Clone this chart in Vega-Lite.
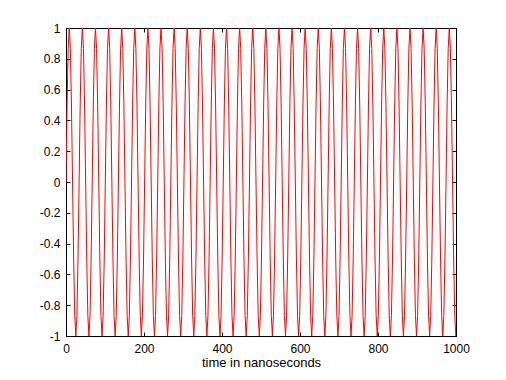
{
 "$schema": "https://vega.github.io/schema/vega-lite/v6.json",
 "width": 390, "height": 308,
 "autosize": {"type": "none"},
 "padding": {"left": 66, "top": 28, "right": 50, "bottom": 44},
 "background": "white",
 "config": {
  "view": {"stroke": "black", "strokeWidth": 1},
  "axis": {"labelFont": "Liberation Sans", "labelFontSize": 12, "labelColor": "black", "titleFont": "Liberation Sans", "titleFontSize": 13, "titleFontWeight": "normal", "titleColor": "black", "domain": false, "grid": false, "tickColor": "black", "tickSize": -4, "ticks": true, "labelFlush": false, "labelOverlap": false}
 },
 "data": {"values": [
{"t":0,"v":0},{"t":2.8,"v":0.5},{"t":5.6,"v":0.866},{"t":8.4,"v":1},{"t":11.2,"v":0.866},{"t":14,"v":0.5},{"t":16.8,"v":0},{"t":19.6,"v":-0.5},{"t":22.4,"v":-0.866},{"t":25.2,"v":-1},{"t":28,"v":-0.866},{"t":30.8,"v":-0.5},
{"t":33.6,"v":0},{"t":36.4,"v":0.5},{"t":39.2,"v":0.866},{"t":42,"v":1},{"t":44.8,"v":0.866},{"t":47.6,"v":0.5},{"t":50.4,"v":0},{"t":53.2,"v":-0.5},{"t":56,"v":-0.866},{"t":58.8,"v":-1},{"t":61.6,"v":-0.866},{"t":64.4,"v":-0.5},
{"t":67.2,"v":0},{"t":70,"v":0.5},{"t":72.8,"v":0.866},{"t":75.6,"v":1},{"t":78.4,"v":0.866},{"t":81.2,"v":0.5},{"t":84,"v":0},{"t":86.8,"v":-0.5},{"t":89.6,"v":-0.866},{"t":92.4,"v":-1},{"t":95.2,"v":-0.866},{"t":98,"v":-0.5},
{"t":100.8,"v":0},{"t":103.6,"v":0.5},{"t":106.4,"v":0.866},{"t":109.2,"v":1},{"t":112,"v":0.866},{"t":114.8,"v":0.5},{"t":117.6,"v":0},{"t":120.4,"v":-0.5},{"t":123.2,"v":-0.866},{"t":126,"v":-1},{"t":128.8,"v":-0.866},{"t":131.6,"v":-0.5},
{"t":134.4,"v":0},{"t":137.2,"v":0.5},{"t":140,"v":0.866},{"t":142.8,"v":1},{"t":145.6,"v":0.866},{"t":148.4,"v":0.5},{"t":151.2,"v":0},{"t":154,"v":-0.5},{"t":156.8,"v":-0.866},{"t":159.6,"v":-1},{"t":162.4,"v":-0.866},{"t":165.2,"v":-0.5},
{"t":168,"v":0},{"t":170.8,"v":0.5},{"t":173.6,"v":0.866},{"t":176.4,"v":1},{"t":179.2,"v":0.866},{"t":182,"v":0.5},{"t":184.8,"v":0},{"t":187.6,"v":-0.5},{"t":190.4,"v":-0.866},{"t":193.2,"v":-1},{"t":196,"v":-0.866},{"t":198.8,"v":-0.5},
{"t":201.6,"v":0},{"t":204.4,"v":0.5},{"t":207.2,"v":0.866},{"t":210,"v":1},{"t":212.8,"v":0.866},{"t":215.6,"v":0.5},{"t":218.4,"v":0},{"t":221.2,"v":-0.5},{"t":224,"v":-0.866},{"t":226.8,"v":-1},{"t":229.6,"v":-0.866},{"t":232.4,"v":-0.5},
{"t":235.2,"v":0},{"t":238,"v":0.5},{"t":240.8,"v":0.866},{"t":243.6,"v":1},{"t":246.4,"v":0.866},{"t":249.2,"v":0.5},{"t":252,"v":0},{"t":254.8,"v":-0.5},{"t":257.6,"v":-0.866},{"t":260.4,"v":-1},{"t":263.2,"v":-0.866},{"t":266,"v":-0.5},
{"t":268.8,"v":0},{"t":271.6,"v":0.5},{"t":274.4,"v":0.866},{"t":277.2,"v":1},{"t":280,"v":0.866},{"t":282.8,"v":0.5},{"t":285.6,"v":0},{"t":288.4,"v":-0.5},{"t":291.2,"v":-0.866},{"t":294,"v":-1},{"t":296.8,"v":-0.866},{"t":299.6,"v":-0.5},
{"t":302.4,"v":0},{"t":305.2,"v":0.5},{"t":308,"v":0.866},{"t":310.8,"v":1},{"t":313.6,"v":0.866},{"t":316.4,"v":0.5},{"t":319.2,"v":0},{"t":322,"v":-0.5},{"t":324.8,"v":-0.866},{"t":327.6,"v":-1},{"t":330.4,"v":-0.866},{"t":333.2,"v":-0.5},
{"t":336,"v":0},{"t":338.8,"v":0.5},{"t":341.6,"v":0.866},{"t":344.4,"v":1},{"t":347.2,"v":0.866},{"t":350,"v":0.5},{"t":352.8,"v":0},{"t":355.6,"v":-0.5},{"t":358.4,"v":-0.866},{"t":361.2,"v":-1},{"t":364,"v":-0.866},{"t":366.8,"v":-0.5},
{"t":369.6,"v":0},{"t":372.4,"v":0.5},{"t":375.2,"v":0.866},{"t":378,"v":1},{"t":380.8,"v":0.866},{"t":383.6,"v":0.5},{"t":386.4,"v":0},{"t":389.2,"v":-0.5},{"t":392,"v":-0.866},{"t":394.8,"v":-1},{"t":397.6,"v":-0.866},{"t":400.4,"v":-0.5},
{"t":403.2,"v":0},{"t":406,"v":0.5},{"t":408.8,"v":0.866},{"t":411.6,"v":1},{"t":414.4,"v":0.866},{"t":417.2,"v":0.5},{"t":420,"v":0},{"t":422.8,"v":-0.5},{"t":425.6,"v":-0.866},{"t":428.4,"v":-1},{"t":431.2,"v":-0.866},{"t":434,"v":-0.5},
{"t":436.8,"v":0},{"t":439.6,"v":0.5},{"t":442.4,"v":0.866},{"t":445.2,"v":1},{"t":448,"v":0.866},{"t":450.8,"v":0.5},{"t":453.6,"v":0},{"t":456.4,"v":-0.5},{"t":459.2,"v":-0.866},{"t":462,"v":-1},{"t":464.8,"v":-0.866},{"t":467.6,"v":-0.5},
{"t":470.4,"v":0},{"t":473.2,"v":0.5},{"t":476,"v":0.866},{"t":478.8,"v":1},{"t":481.6,"v":0.866},{"t":484.4,"v":0.5},{"t":487.2,"v":0},{"t":490,"v":-0.5},{"t":492.8,"v":-0.866},{"t":495.6,"v":-1},{"t":498.4,"v":-0.866},{"t":501.2,"v":-0.5},
{"t":504,"v":0},{"t":506.8,"v":0.5},{"t":509.6,"v":0.866},{"t":512.4,"v":1},{"t":515.2,"v":0.866},{"t":518,"v":0.5},{"t":520.8,"v":0},{"t":523.6,"v":-0.5},{"t":526.4,"v":-0.866},{"t":529.2,"v":-1},{"t":532,"v":-0.866},{"t":534.8,"v":-0.5},
{"t":537.6,"v":0},{"t":540.4,"v":0.5},{"t":543.2,"v":0.866},{"t":546,"v":1},{"t":548.8,"v":0.866},{"t":551.6,"v":0.5},{"t":554.4,"v":0},{"t":557.2,"v":-0.5},{"t":560,"v":-0.866},{"t":562.8,"v":-1},{"t":565.6,"v":-0.866},{"t":568.4,"v":-0.5},
{"t":571.2,"v":0},{"t":574,"v":0.5},{"t":576.8,"v":0.866},{"t":579.6,"v":1},{"t":582.4,"v":0.866},{"t":585.2,"v":0.5},{"t":588,"v":0},{"t":590.8,"v":-0.5},{"t":593.6,"v":-0.866},{"t":596.4,"v":-1},{"t":599.2,"v":-0.866},{"t":602,"v":-0.5},
{"t":604.8,"v":0},{"t":607.6,"v":0.5},{"t":610.4,"v":0.866},{"t":613.2,"v":1},{"t":616,"v":0.866},{"t":618.8,"v":0.5},{"t":621.6,"v":0},{"t":624.4,"v":-0.5},{"t":627.2,"v":-0.866},{"t":630,"v":-1},{"t":632.8,"v":-0.866},{"t":635.6,"v":-0.5},
{"t":638.4,"v":0},{"t":641.2,"v":0.5},{"t":644,"v":0.866},{"t":646.8,"v":1},{"t":649.6,"v":0.866},{"t":652.4,"v":0.5},{"t":655.2,"v":0},{"t":658,"v":-0.5},{"t":660.8,"v":-0.866},{"t":663.6,"v":-1},{"t":666.4,"v":-0.866},{"t":669.2,"v":-0.5},
{"t":672,"v":0},{"t":674.8,"v":0.5},{"t":677.6,"v":0.866},{"t":680.4,"v":1},{"t":683.2,"v":0.866},{"t":686,"v":0.5},{"t":688.8,"v":0},{"t":691.6,"v":-0.5},{"t":694.4,"v":-0.866},{"t":697.2,"v":-1},{"t":700,"v":-0.866},{"t":702.8,"v":-0.5},
{"t":705.6,"v":0},{"t":708.4,"v":0.5},{"t":711.2,"v":0.866},{"t":714,"v":1},{"t":716.8,"v":0.866},{"t":719.6,"v":0.5},{"t":722.4,"v":0},{"t":725.2,"v":-0.5},{"t":728,"v":-0.866},{"t":730.8,"v":-1},{"t":733.6,"v":-0.866},{"t":736.4,"v":-0.5},
{"t":739.2,"v":0},{"t":742,"v":0.5},{"t":744.8,"v":0.866},{"t":747.6,"v":1},{"t":750.4,"v":0.866},{"t":753.2,"v":0.5},{"t":756,"v":0},{"t":758.8,"v":-0.5},{"t":761.6,"v":-0.866},{"t":764.4,"v":-1},{"t":767.2,"v":-0.866},{"t":770,"v":-0.5},
{"t":772.8,"v":0},{"t":775.6,"v":0.5},{"t":778.4,"v":0.866},{"t":781.2,"v":1},{"t":784,"v":0.866},{"t":786.8,"v":0.5},{"t":789.6,"v":0},{"t":792.4,"v":-0.5},{"t":795.2,"v":-0.866},{"t":798,"v":-1},{"t":800.8,"v":-0.866},{"t":803.6,"v":-0.5},
{"t":806.4,"v":0},{"t":809.2,"v":0.5},{"t":812,"v":0.866},{"t":814.8,"v":1},{"t":817.6,"v":0.866},{"t":820.4,"v":0.5},{"t":823.2,"v":0},{"t":826,"v":-0.5},{"t":828.8,"v":-0.866},{"t":831.6,"v":-1},{"t":834.4,"v":-0.866},{"t":837.2,"v":-0.5},
{"t":840,"v":0},{"t":842.8,"v":0.5},{"t":845.6,"v":0.866},{"t":848.4,"v":1},{"t":851.2,"v":0.866},{"t":854,"v":0.5},{"t":856.8,"v":0},{"t":859.6,"v":-0.5},{"t":862.4,"v":-0.866},{"t":865.2,"v":-1},{"t":868,"v":-0.866},{"t":870.8,"v":-0.5},
{"t":873.6,"v":0},{"t":876.4,"v":0.5},{"t":879.2,"v":0.866},{"t":882,"v":1},{"t":884.8,"v":0.866},{"t":887.6,"v":0.5},{"t":890.4,"v":0},{"t":893.2,"v":-0.5},{"t":896,"v":-0.866},{"t":898.8,"v":-1},{"t":901.6,"v":-0.866},{"t":904.4,"v":-0.5},
{"t":907.2,"v":0},{"t":910,"v":0.5},{"t":912.8,"v":0.866},{"t":915.6,"v":1},{"t":918.4,"v":0.866},{"t":921.2,"v":0.5},{"t":924,"v":0},{"t":926.8,"v":-0.5},{"t":929.6,"v":-0.866},{"t":932.4,"v":-1},{"t":935.2,"v":-0.866},{"t":938,"v":-0.5},
{"t":940.8,"v":0},{"t":943.6,"v":0.5},{"t":946.4,"v":0.866},{"t":949.2,"v":1},{"t":952,"v":0.866},{"t":954.8,"v":0.5},{"t":957.6,"v":0},{"t":960.4,"v":-0.5},{"t":963.2,"v":-0.866},{"t":966,"v":-1},{"t":968.8,"v":-0.866},{"t":971.6,"v":-0.5},
{"t":974.4,"v":0},{"t":977.2,"v":0.5},{"t":980,"v":0.866},{"t":982.8,"v":1},{"t":985.6,"v":0.866},{"t":988.4,"v":0.5},{"t":991.2,"v":0},{"t":994,"v":-0.5},{"t":996.8,"v":-0.866},{"t":999.6,"v":-1},{"t":1000,"v":-0.997}
 ]},
 "layer": [
  {
   "mark": {"type": "line", "color": "#ff0000", "strokeWidth": 1, "clip": true},
   "encoding": {
    "x": {"field": "t", "type": "quantitative", "scale": {"domain": [0, 1000], "nice": false, "zero": false},
          "axis": {"orient": "bottom", "values": [0, 200, 400, 600, 800, 1000], "format": "d", "title": "time in nanoseconds", "labelPadding": 11, "titlePadding": 2}},
    "y": {"field": "v", "type": "quantitative", "scale": {"domain": [-1, 1], "nice": false, "zero": false},
          "axis": {"orient": "left", "values": [-1, -0.8, -0.6, -0.4, -0.2, 0, 0.2, 0.4, 0.6, 0.8, 1], "format": ".1~f", "title": null, "labelPadding": 10, "labelExpr": "replace(datum.label, '−', '-')"}}
   }
  },
  {
   "mark": {"type": "line", "opacity": 0},
   "encoding": {
    "x": {"field": "t", "type": "quantitative", "axis": {"orient": "top", "values": [0, 200, 400, 600, 800, 1000], "labels": false, "title": null}},
    "y": {"field": "v", "type": "quantitative", "axis": {"orient": "right", "values": [-1, -0.8, -0.6, -0.4, -0.2, 0, 0.2, 0.4, 0.6, 0.8, 1], "labels": false, "title": null}}
   }
  }
 ],
 "resolve": {"axis": {"x": "independent", "y": "independent"}}
}
